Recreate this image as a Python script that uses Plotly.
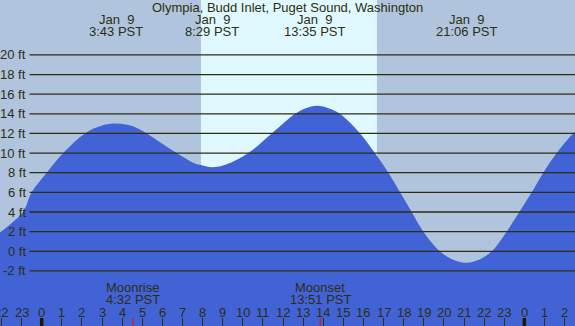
import plotly.graph_objects as go

# ---------------- data ----------------
title_text = "Olympia, Budd Inlet, Puget Sound, Washington"

tide_hours = [-2.2, -2.07, -0.93, -0.5, 0.25, 1.07, 2.15, 3.0, 3.72, 4.5, 5.22, 6.0,
              6.71, 7.5, 7.87, 8.48, 9.2, 10.27, 11.44, 12.6, 13.1, 13.7, 14.3, 14.83,
              15.83, 16.57, 17.24, 17.82, 18.4, 18.98, 19.8, 20.4, 21.1, 21.8, 22.38,
              23.12, 23.75, 24.37, 24.94, 25.61, 26.43, 26.7]
tide_ft = [1.65, 1.9, 4.0, 6.0, 8.0, 10.0, 12.0, 12.8, 13.0, 12.75, 12.0, 10.95,
           10.0, 9.05, 8.8, 8.55, 8.85, 10.0, 12.0, 14.0, 14.55, 14.83, 14.55, 14.0,
           12.0, 10.0, 8.0, 6.0, 4.0, 2.0, 0.0, -0.8, -1.16, -0.8, 0.0,
           2.0, 4.0, 6.0, 8.0, 10.0, 12.0, 12.4]

extreme_hours = [3.717, 8.483, 13.583, 21.1]
extreme_dates = ["Jan\u00a0 9", "Jan\u00a0 9", "Jan\u00a0 9", "Jan\u00a0 9"]
extreme_times = ["3:43 PST", "8:29 PST", "13:35 PST", "21:06 PST"]

sunrise_hour = 7.92
sunset_hour = 16.67

moon_hours = [4.533, 13.85]
moon_names = ["Moonrise", "Moonset"]
moon_times = ["4:32 PST", "13:51 PST"]

height_ticks = [20, 18, 16, 14, 12, 10, 8, 6, 4, 2, 0, -2]
height_labels = ["20 ft", "18 ft", "16 ft", "14 ft", "12 ft", "10 ft", "8 ft",
                 "6 ft", "4 ft", "2 ft", "0 ft", "-2 ft"]

hour_ticks = list(range(-2, 27))
hour_labels = ["22", "23", "0", "1", "2", "3", "4", "5", "6", "7", "8", "9", "10",
               "11", "12", "13", "14", "15", "16", "17", "18", "19", "20", "21",
               "22", "23", "0", "1", "2"]
midnight_hours = [0, 24]

# ---------------- style ----------------
W, H = 575, 326
X_RANGE = [-2.074, 26.52]
Y_RANGE = [-7.61, 25.59]
NIGHT = "#b0c4de"
DAY = "#e0f8ff"
WATER = "#4163d6"
INK = "#2e2e10"
FONT = "Liberation Sans, Arial, sans-serif"

fig = go.Figure()

# baseline (bottom of chart) for the fill
fig.add_trace(go.Scatter(x=[tide_hours[0], tide_hours[-1]], y=[Y_RANGE[0], Y_RANGE[0]],
                         mode="lines", line=dict(width=0, color=WATER),
                         hoverinfo="skip", showlegend=False))
fig.add_trace(go.Scatter(x=tide_hours, y=tide_ft, mode="lines",
                         line=dict(width=0, color=WATER, shape="spline", smoothing=1),
                         fill="tonexty", fillcolor=WATER, showlegend=False))

shapes = []
# daylight band
shapes.append(dict(type="rect", xref="x", yref="paper", x0=sunrise_hour, x1=sunset_hour,
                   y0=0, y1=1, fillcolor=DAY, line=dict(width=0), layer="below"))
# horizontal height lines
for v in height_ticks:
    shapes.append(dict(type="line", xref="paper", yref="y", x0=29.5 / W, x1=1, y0=v, y1=v,
                       line=dict(color=INK, width=1.3), layer="above"))
# midnight thick ticks
for m in midnight_hours:
    shapes.append(dict(type="line", xref="x", yref="paper", x0=m, x1=m, y0=0, y1=8 / H,
                       line=dict(color="#1a1a00", width=3.5), layer="above"))
# moon ticks (red)
for m in moon_hours:
    shapes.append(dict(type="line", xref="x", yref="paper", x0=m, x1=m, y0=0, y1=8 / H,
                       line=dict(color="#ff0000", width=1), layer="above"))

ann = []
def txt(x, y, s, xref="x", xanchor="center"):
    ann.append(dict(x=x, y=y, xref=xref, yref="paper", text=s, showarrow=False,
                    xanchor=xanchor, yanchor="middle",
                    font=dict(family=FONT, size=13, color=INK)))

txt(287 / W, 1 - 7.5 / H, title_text, xref="paper")
for hx, d, t in zip(extreme_hours, extreme_dates, extreme_times):
    txt(hx, 1 - 20 / H, d)
    txt(hx, 1 - 31.5 / H, t)
for hx, n, t in zip(moon_hours, moon_names, moon_times):
    txt(hx, 1 - 287.5 / H, n)
    txt(hx, 1 - 299.5 / H, t)
for hx, lab in zip(hour_ticks, hour_labels):
    txt(hx, 1 - 312 / H, lab)
for v, lab in zip(height_ticks, height_labels):
    ann.append(dict(x=27.5 / W, y=v, xref="paper", yref="y", text=lab, showarrow=False,
                    xanchor="right", yanchor="middle",
                    font=dict(family=FONT, size=13, color=INK)))

fig.update_layout(
    width=W, height=H, margin=dict(l=0, r=0, t=0, b=0),
    paper_bgcolor=NIGHT, plot_bgcolor=NIGHT,
    shapes=shapes, annotations=ann, showlegend=False,
    xaxis=dict(range=X_RANGE, showgrid=False, zeroline=False, showline=False,
               tickvals=hour_ticks, ticks="inside", ticklen=8, tickwidth=1,
               tickcolor=INK, showticklabels=False, fixedrange=True),
    yaxis=dict(range=Y_RANGE, showgrid=False, zeroline=False, showline=False,
               showticklabels=False, ticks="", fixedrange=True),
)

fig.write_html("out.html", config={"displayModeBar": False},
               post_script="document.body.style.margin='0px';"
                           "document.body.style.overflow='hidden';")
